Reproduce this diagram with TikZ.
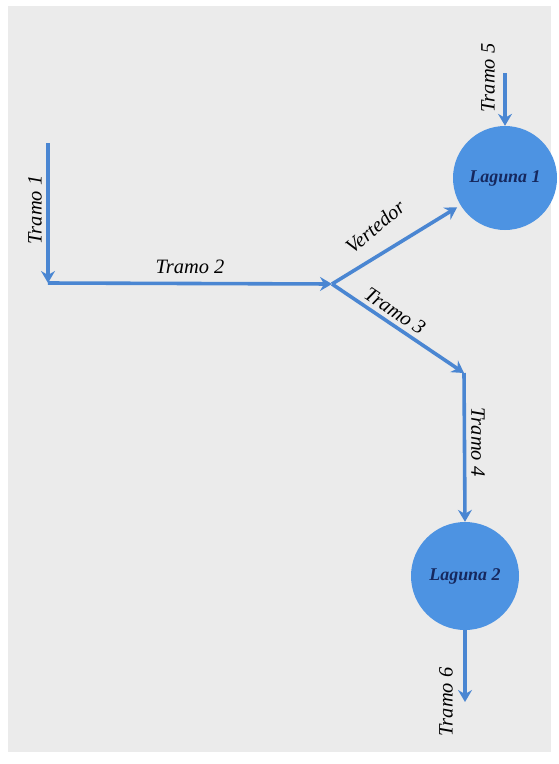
\documentclass[tikz,border=0pt]{standalone}
\usepackage{fontspec}
\setmainfont{Liberation Serif}
\usetikzlibrary{arrows.meta}
\definecolor{flow}{HTML}{4A86D2}
\definecolor{pond}{HTML}{4D93E2}
\definecolor{pondtext}{HTML}{16285E}
\definecolor{paper}{HTML}{EBEBEB}
\tikzset{
  flowline/.style={draw=flow, line width=3.6pt, -{Stealth[length=12pt,width=14pt,inset=4pt]}},
  pondnode/.style={circle, fill=pond, draw=none, inner sep=0pt},
  lbl/.style={font=\fontsize{20.5}{20.5}\selectfont\itshape, text=black, inner sep=0pt},
  pondlbl/.style={font=\fontsize{18}{18}\selectfont\bfseries\itshape, text=pondtext}
}
\begin{document}
\begin{tikzpicture}[x=1bp,y=-1bp]
  \useasboundingbox (0,0) rectangle (559,764);
  \fill[white] (0,0) rectangle (559,764);
  \fill[paper] (8,6) rectangle (551,752);

  % ponds
  \node[pondnode, minimum size=104bp] (L1) at (505,178) {};
  \node[pondlbl] at (L1) {Laguna 1};
  \node[pondnode, minimum size=108bp] (L2) at (465,576) {};
  \node[pondlbl] at (L2) {Laguna 2};

  % junction points
  \coordinate (t1s) at (48,143);
  \coordinate (t1e) at (48,283);
  \coordinate (j) at (332,284);
  \coordinate (c) at (464,373);
  \coordinate (t5s) at (505,73);
  \coordinate (t6e) at (465,702);

  % reaches
  \draw[flowline] (t1s) -- (t1e);
  \draw[flowline] (t1e) -- (j);
  \draw[flowline, shorten >=4pt] (j) -- (L1);
  \draw[flowline] (j) -- (c);
  \draw[flowline] (c) -- (L2.north);
  \draw[flowline] (t5s) -- (L1.north);
  \draw[flowline] (L2.south) -- (t6e);

  % labels
  \node[lbl, rotate=90] (n1) at (35,210) {Tramo 1};
  \node[lbl] (n2) at (190,267) {Tramo 2};
  \node[lbl, rotate=40] (nv) at (375,227) {Vertedor};
  \node[lbl, rotate=-34] (n3) at (395,311) {Tramo 3};
  \node[lbl, rotate=-90] (n4) at (478,442) {Tramo 4};
  \node[lbl, rotate=90] (n5) at (488,78) {Tramo 5};
  \node[lbl, rotate=90] (n6) at (446,702) {Tramo 6};
\end{tikzpicture}
\end{document}
